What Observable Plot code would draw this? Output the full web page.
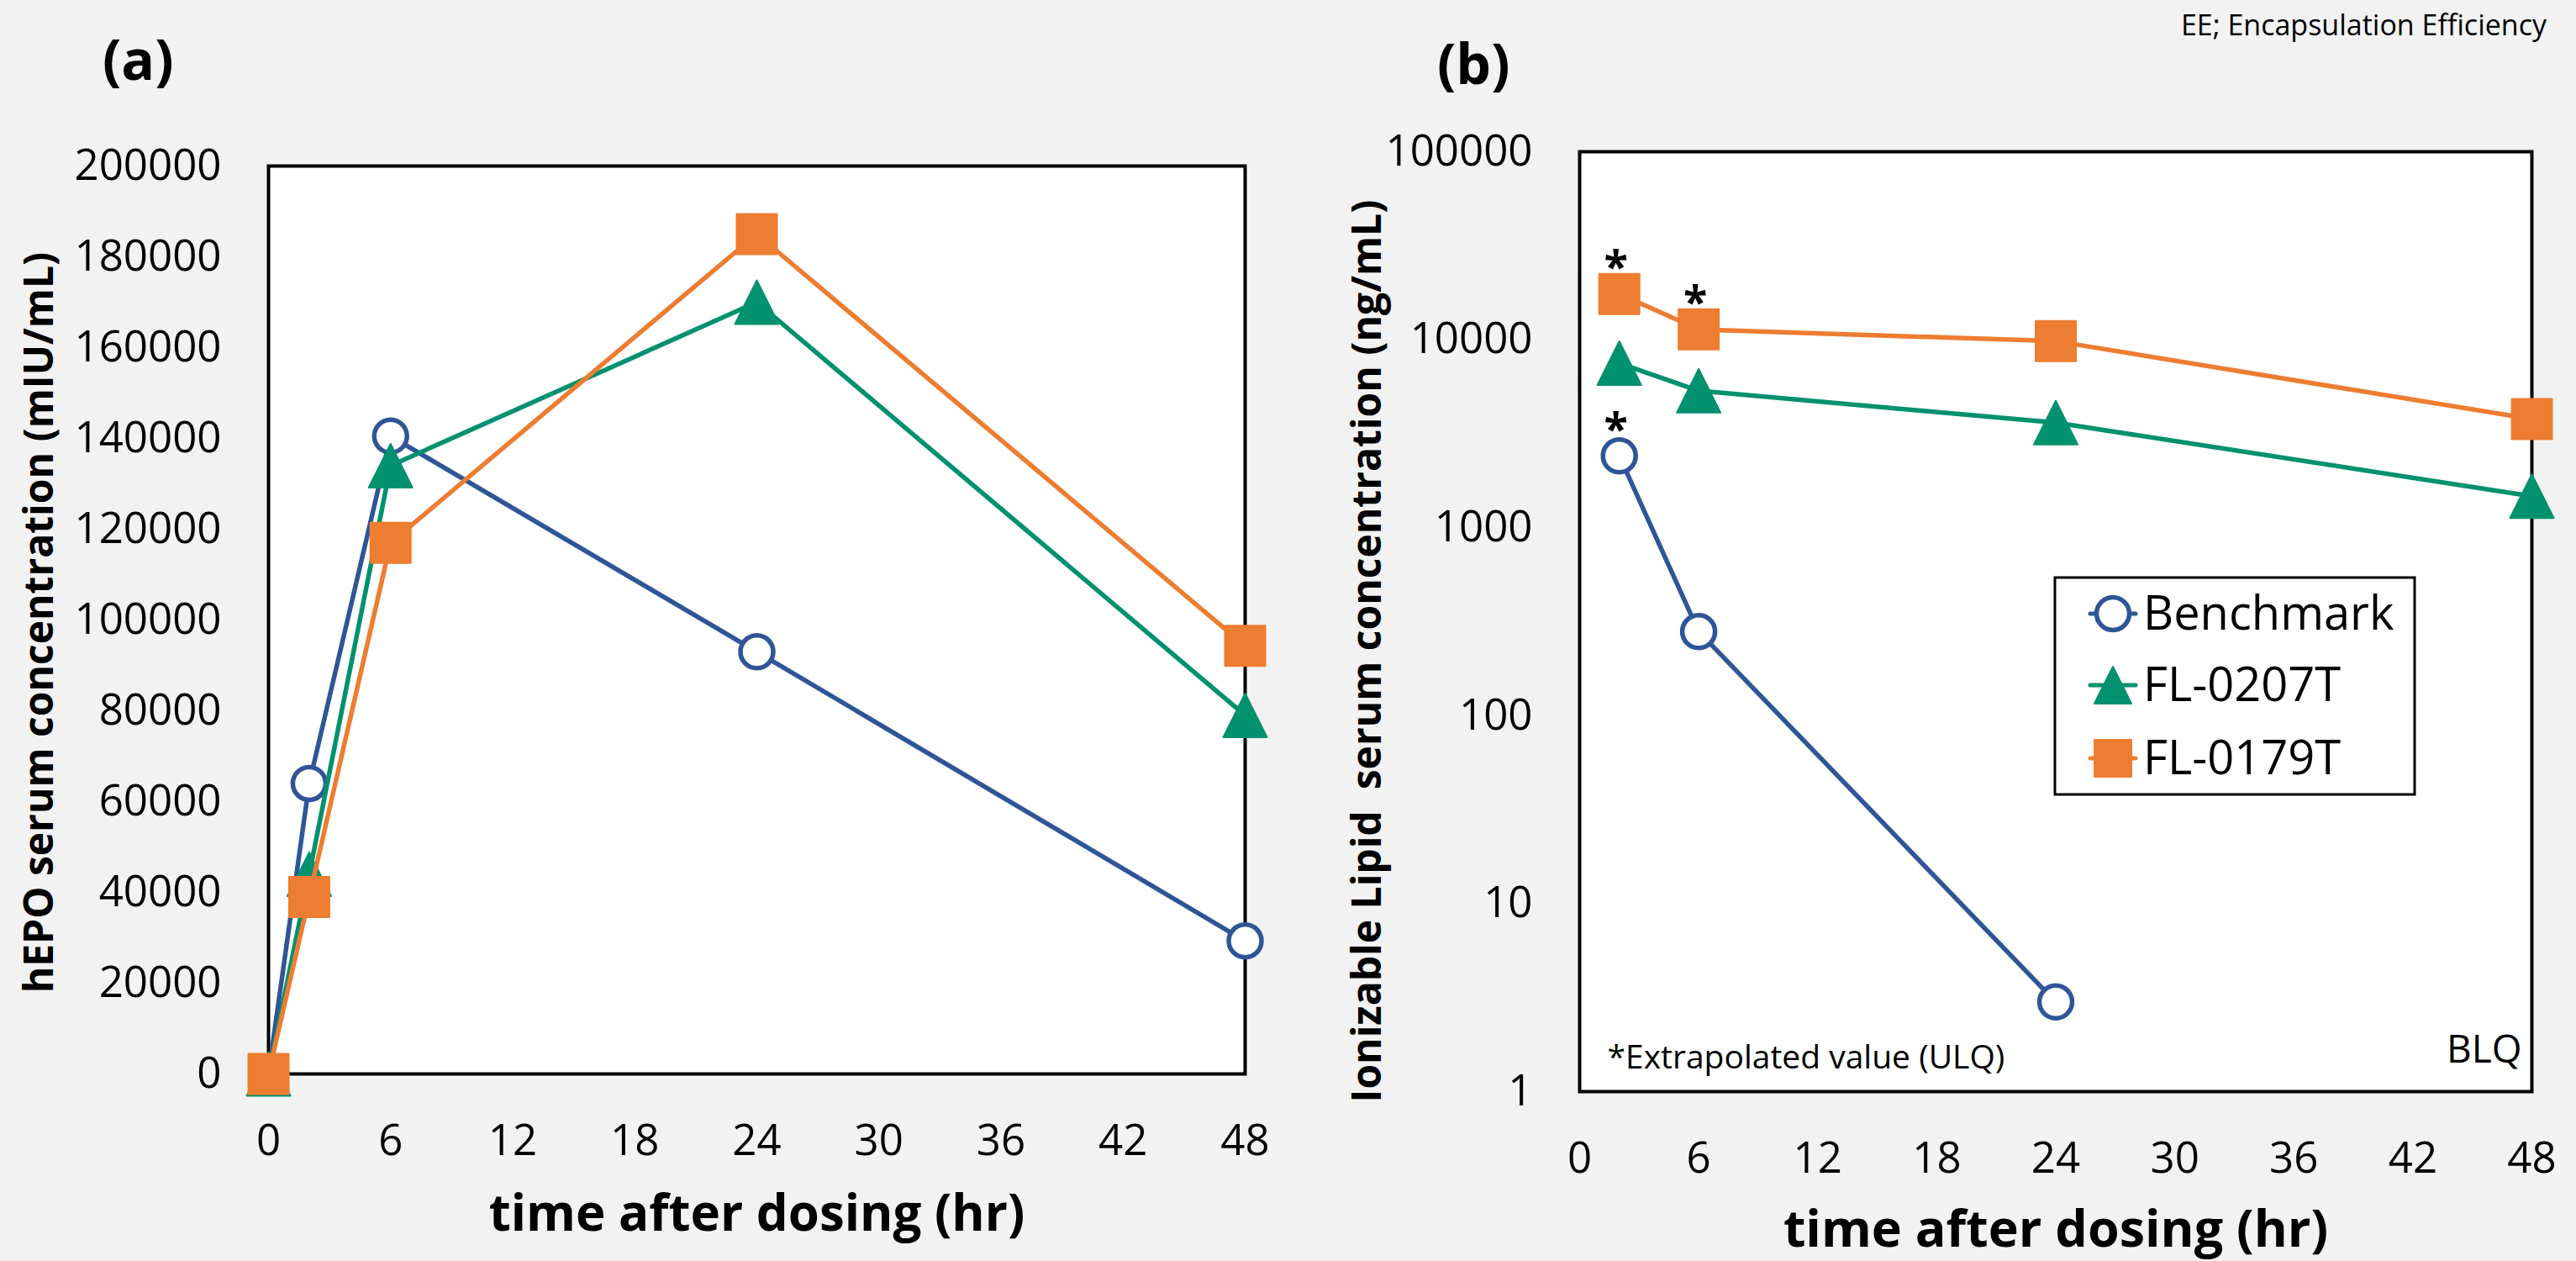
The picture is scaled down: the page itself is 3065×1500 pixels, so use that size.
<!DOCTYPE html>
<html><head><meta charset="utf-8">
<script src="https://cdn.jsdelivr.net/npm/d3@7"></script>
<script src="https://cdn.jsdelivr.net/npm/@observablehq/plot@0.6"></script>
<style>
body{margin:0;background:#f2f2f2;}
#root{position:relative;width:3065px;height:1500px;overflow:hidden;background:#f2f2f2;font-family:"Open Sans",sans-serif;}
</style></head><body><div id="root"></div>
<script>
// ---------- data ----------
const seriesNames = ["Benchmark", "FL-0207T", "FL-0179T"];
const seriesColors = ["#2F5597", "#00916E", "#ED7D31"];

const xTicks = [0, 6, 12, 18, 24, 30, 36, 42, 48];

// panel (a): hEPO serum concentration (mIU/mL)
const timesA = [0, 2, 6, 24, 48];
const hepoBenchmark = [0, 64000, 140500, 93000, 29300];
const hepoFL0207T = [0, 44000, 134000, 170000, 79000];
const hepoFL0179T = [0, 39000, 117000, 185000, 94300];
const yTicksA = [0, 20000, 40000, 60000, 80000, 100000, 120000, 140000, 160000, 180000, 200000];

// panel (b): ionizable lipid serum concentration (ng/mL)
const timesBBenchmark = [2, 6, 24];
const lipidBenchmark = [2410, 280, 3.0];
const timesB = [2, 6, 24, 48];
const lipidFL0207T = [7500, 5350, 3620, 1470];
const lipidFL0179T = [17500, 11350, 9820, 3780];
const yTicksB = [1, 10, 100, 1000, 10000, 100000];

// extrapolated (ULQ) points marked with "*"
const extrapolatedSeries = ["FL-0179T", "FL-0179T", "Benchmark"];
const extrapolatedTimes = [2, 6, 2];

const labelA = "(a)";
const labelB = "(b)";
const noteTop = "EE; Encapsulation Efficiency";
const xTitle = "time after dosing (hr)";
const yTitleA = "hEPO serum concentration (mIU/mL)";
const yTitleB = "Ionizable Lipid\u00a0 serum concentration (ng/mL)";
const noteULQ = "*Extrapolated value (ULQ)";
const noteBLQ = "BLQ";

// ---------- helpers ----------
const rowsFrom = (name, ts, vs) => ts.map((t, i) => ({series: name, t, v: vs[i]}));
const rowsA = [
  ...rowsFrom("Benchmark", timesA, hepoBenchmark),
  ...rowsFrom("FL-0207T", timesA, hepoFL0207T),
  ...rowsFrom("FL-0179T", timesA, hepoFL0179T)
];
const rowsB = [
  ...rowsFrom("Benchmark", timesBBenchmark, lipidBenchmark),
  ...rowsFrom("FL-0207T", timesB, lipidFL0207T),
  ...rowsFrom("FL-0179T", timesB, lipidFL0179T)
];
const astRows = extrapolatedSeries.map((s, i) => rowsB.find(d => d.series === s && d.t === extrapolatedTimes[i]));

const triangleSym = {draw(ctx, size) { const r = Math.sqrt(size / Math.PI); ctx.moveTo(0, -r); ctx.lineTo(r, r); ctx.lineTo(-r, r); ctx.closePath(); }};
const squareSym = {draw(ctx, size) { const r = Math.sqrt(size / Math.PI); ctx.rect(-r, -r, 2 * r, 2 * r); }};
const symStyle = [
  {symbol: "circle", r: 19.5, fill: "white", strokeWidth: 5.5},
  {symbol: triangleSym, r: 26, fill: seriesColors[1], strokeWidth: 2},
  {symbol: squareSym, r: 24, fill: seriesColors[2], strokeWidth: 2}
];

function seriesMarks(rows) {
  const out = [];
  seriesNames.forEach((name, i) => {
    const d = rows.filter(r => r.series === name);
    out.push(Plot.line(d, {x: "t", y: "v", stroke: seriesColors[i], strokeWidth: 5.5}));
    out.push(Plot.dot(d, {x: "t", y: "v", symbol: symStyle[i].symbol, r: symStyle[i].r, fill: symStyle[i].fill,
      stroke: seriesColors[i], strokeWidth: symStyle[i].strokeWidth, strokeLinejoin: "round"}));
  });
  return out;
}

const FONT = '"Open Sans", sans-serif';
const baseStyle = {fontFamily: FONT, background: "transparent", color: "black", overflow: "visible"};

// ---------- panel (a) ----------
const plotA = Plot.plot({
  width: 1530, height: 1500,
  marginLeft: 319, marginRight: 49, marginTop: 197, marginBottom: 223,
  style: baseStyle,
  x: {domain: [0, 48]},
  y: {domain: [0, 200000]},
  marks: [
    Plot.frame({fill: "white"}),
    Plot.axisY({ticks: yTicksA, tickSize: 0, tickPadding: 56, fontSize: 51, tickFormat: d => String(d), label: null}),
    Plot.axisX({ticks: xTicks, tickSize: 0, tickPadding: 60, fontSize: 51, tickFormat: d => String(d), label: null}),
    Plot.text([yTitleA], {text: d => d, frameAnchor: "left", rotate: -90, dx: -272, dy: 3, fontSize: 48, fontWeight: "bold", lineAnchor: "middle", textAnchor: "middle"}),
    Plot.text([xTitle], {text: d => d, frameAnchor: "bottom", dy: 167, fontSize: 60, fontWeight: "bold", lineAnchor: "middle"}),
    Plot.frame({stroke: "black", strokeWidth: 4}),
    ...seriesMarks(rowsA)
  ]
});

// ---------- panel (b) ----------
const plotB = Plot.plot({
  width: 1535, height: 1500,
  marginLeft: 349, marginRight: 53, marginTop: 180, marginBottom: 202,
  style: baseStyle,
  x: {domain: [0, 48]},
  y: {type: "log", domain: [1, 100000]},
  marks: [
    Plot.frame({fill: "white"}),
    Plot.axisY({ticks: yTicksB, tickSize: 0, tickPadding: 56, fontSize: 51, tickFormat: d => String(d), label: null}),
    Plot.axisX({ticks: xTicks, tickSize: 0, tickPadding: 60, fontSize: 51, tickFormat: d => String(d), label: null}),
    Plot.text([yTitleB], {text: d => d, frameAnchor: "left", rotate: -90, dx: -252, dy: 35, fontSize: 48, fontWeight: "bold", lineAnchor: "middle", textAnchor: "middle"}),
    Plot.text([xTitle], {text: d => d, frameAnchor: "bottom", dy: 165, fontSize: 61, fontWeight: "bold", lineAnchor: "middle"}),
    Plot.frame({stroke: "black", strokeWidth: 4}),
    Plot.text([noteULQ], {text: d => d, frameAnchor: "bottom-left", textAnchor: "start", dx: 33, dy: -40, fontSize: 39, lineAnchor: "middle"}),
    Plot.text([noteBLQ], {text: d => d, frameAnchor: "bottom-right", textAnchor: "end", dx: -12, dy: -49, fontSize: 46, lineAnchor: "middle"}),
    ...seriesMarks(rowsB),
    Plot.text(astRows, {x: "t", y: "v", text: () => "*", dx: -4, dy: -30, fontSize: 52, fontWeight: "bold", lineAnchor: "middle"})
  ]
});

const root = document.getElementById("root");
for (const [svg, left] of [[plotA, 0], [plotB, 1530]]) {
  svg.style.position = "absolute";
  svg.style.left = left + "px";
  svg.style.top = "0px";
  root.appendChild(svg);
}

// ---------- overlay: panel labels, note, legend ----------
const ov = d3.select(root).append("svg")
  .attr("width", 3065).attr("height", 1500)
  .style("position", "absolute").style("left", 0).style("top", 0)
  .style("font-family", FONT);

ov.append("text").attr("x", 122).attr("y", 95).attr("font-size", 66).attr("font-weight", "bold").text(labelA);
ov.append("text").attr("x", 1710).attr("y", 100).attr("font-size", 66).attr("font-weight", "bold").text(labelB);
ov.append("text").attr("x", 3030).attr("y", 42).attr("text-anchor", "end").attr("font-size", 34).text(noteTop);

const lg = ov.append("g");
lg.append("rect").attr("x", 2445).attr("y", 687).attr("width", 428).attr("height", 258)
  .attr("fill", "white").attr("stroke", "black").attr("stroke-width", 3);
const rowY = [730, 815, 902];
seriesNames.forEach((name, i) => {
  const y = rowY[i];
  lg.append("line").attr("x1", 2487).attr("x2", 2541).attr("y1", y).attr("y2", y)
    .attr("stroke", seriesColors[i]).attr("stroke-width", 5).attr("stroke-linecap", "round");
  const st = symStyle[i];
  const sym = st.symbol === "circle" ? d3.symbolCircle : st.symbol;
  const rr = i === 0 ? 19.5 : 22;
  lg.append("path").attr("transform", `translate(2514,${y})`)
    .attr("d", d3.symbol(sym, Math.PI * rr * rr)())
    .attr("fill", st.fill).attr("stroke", seriesColors[i]).attr("stroke-width", st.strokeWidth).attr("stroke-linejoin", "round");
  lg.append("text").attr("x", 2550).attr("y", y + 19).attr("font-size", 56).text(name);
});
</script>
</body></html>
